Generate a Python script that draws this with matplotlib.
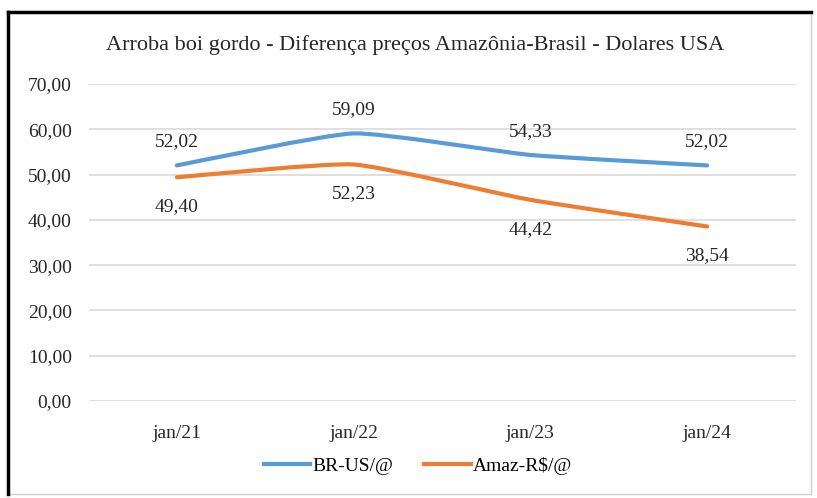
import matplotlib.pyplot as plt
from matplotlib.lines import Line2D
from matplotlib.patches import Rectangle, PathPatch
from matplotlib.path import Path

categories = ['jan/21', 'jan/22', 'jan/23', 'jan/24']
br_us = [52.02, 59.09, 54.33, 52.02]
amaz_rs = [49.40, 52.23, 44.42, 38.54]
yticks = [0, 10, 20, 30, 40, 50, 60, 70]

plt.rcParams['font.family'] = ['Liberation Serif', 'DejaVu Serif']

fig = plt.figure(figsize=(8.17, 4.98), dpi=100)
ax = fig.add_axes([88.5 / 817, 1 - 401 / 498, 707 / 817, 317 / 498])

x = list(range(len(categories)))
blue = '#5B9BD5'
orange = '#ED7D31'
txt = '#262626'


def smooth_path(xs, ys, t=0.08):
    # lightly smoothed line: cubic Bezier segments with Catmull-Rom tangents
    pts = list(zip(xs, ys))
    verts = [pts[0]]
    codes = [Path.MOVETO]
    n = len(pts)
    for i in range(n - 1):
        p0 = pts[max(i - 1, 0)]
        p1 = pts[i]
        p2 = pts[i + 1]
        p3 = pts[min(i + 2, n - 1)]
        c1 = (p1[0] + (p2[0] - p0[0]) * t, p1[1] + (p2[1] - p0[1]) * t)
        c2 = (p2[0] - (p3[0] - p1[0]) * t, p2[1] - (p3[1] - p1[1]) * t)
        verts += [c1, c2, p2]
        codes += [Path.CURVE4] * 3
    return Path(verts, codes)


for ys, c in [(br_us, blue), (amaz_rs, orange)]:
    ax.add_patch(PathPatch(smooth_path(x, ys), fill=False, edgecolor=c, lw=3,
                           capstyle='round', joinstyle='round'))


def fmt(v):
    return f'{v:.2f}'.replace('.', ',')


for xi, v in zip(x, br_us):
    ax.annotate(fmt(v), (xi, v), xytext=(0, 11), textcoords='offset points',
                ha='center', va='bottom', fontsize=14, color=txt)
for xi, v in zip(x, amaz_rs):
    ax.annotate(fmt(v), (xi, v), xytext=(0, -15), textcoords='offset points',
                ha='center', va='top', fontsize=14, color=txt)

ax.set_xlim(-0.5, 3.5)
ax.set_ylim(0, 70)
ax.set_yticks(yticks)
ax.set_yticklabels([fmt(t) for t in yticks], fontsize=14, color=txt)
ax.set_xticks(x)
ax.set_xticklabels(categories, fontsize=14, color=txt)
ax.tick_params(length=0)
ax.tick_params(axis='y', pad=12)
ax.tick_params(axis='x', pad=17)
ax.grid(axis='y', color='#d9d9d9', lw=1.2)
ax.set_axisbelow(True)
for s in ax.spines.values():
    s.set_visible(False)

fig.text(415 / 817, 1 - 45 / 498, 'Arroba boi gordo - Diferença preços Amazônia-Brasil - Dolares USA',
         ha='center', va='center', fontsize=16, color=txt)

handles = [Line2D([], [], color=blue, lw=3), Line2D([], [], color=orange, lw=3)]
fig.legend(handles, ['BR-US/@', 'Amaz-R$/@'], loc='center', bbox_to_anchor=(418 / 817, 1 - 466 / 498),
           ncol=2, frameon=False, fontsize=14, handlelength=2.4, handletextpad=0.1, columnspacing=1.6)

# frame around the chart
fig.add_artist(Rectangle((8 / 817, 1 - 494 / 498), 803 / 817, 482 / 498, transform=fig.transFigure,
                         fill=False, edgecolor='#d0d0d0', lw=1))
fig.add_artist(Line2D([8 / 817, 8 / 817], [1 - 494 / 498, 1 - 12 / 498], transform=fig.transFigure,
                      color='black', lw=2.5))
fig.add_artist(Line2D([8 / 817, 811 / 817], [1 - 12 / 498, 1 - 12 / 498], transform=fig.transFigure,
                      color='black', lw=2.5))

fig.savefig('out.png', dpi=100)
